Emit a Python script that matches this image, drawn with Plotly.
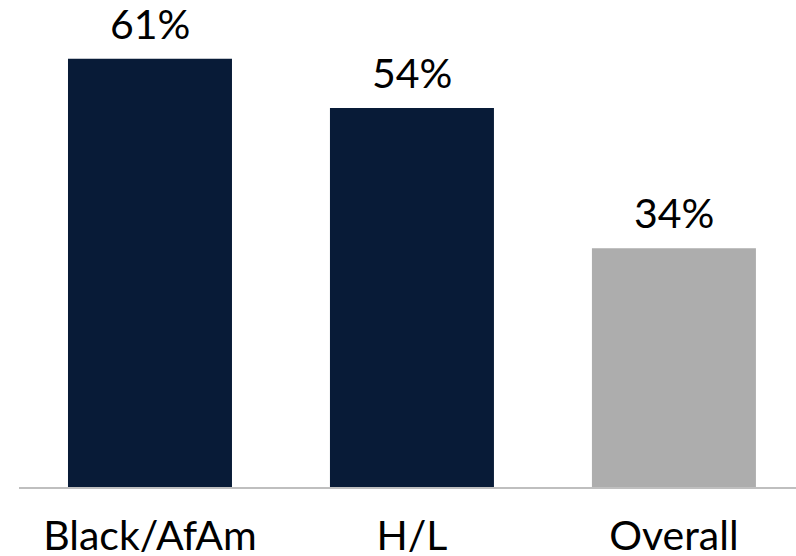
import plotly.graph_objects as go

# Share of respondents by group
categories = ["Black/AfAm", "H/L", "Overall"]
values = [61, 54, 34]
bar_colors = ["#081B37", "#081B37", "#ADADAD"]

FONT = "Lato"
FONT_SIZE = 41

fig = go.Figure(
    go.Bar(
        x=categories,
        y=values,
        marker=dict(color=bar_colors, line=dict(width=0)),
        width=0.626,
        hoverinfo="skip",
    )
)

# Value labels above each bar
for cat, val in zip(categories, values):
    fig.add_annotation(
        x=cat, y=val, text=f"{val}%", showarrow=False,
        yanchor="bottom", yshift=9,
        font=dict(family=FONT, size=FONT_SIZE, color="#000000"),
    )

fig.update_layout(
    width=796, height=556,
    margin=dict(l=19, r=0, t=0, b=69, autoexpand=False),
    paper_bgcolor="white", plot_bgcolor="white",
    showlegend=False,
    xaxis=dict(
        range=[-0.5, 2.466], automargin=False,
        showline=True, linecolor="#BFBFBF", linewidth=2,
        showgrid=False, zeroline=False,
        ticks="outside", ticklen=12, tickcolor="rgba(0,0,0,0)",
        tickfont=dict(family=FONT, size=FONT_SIZE, color="#000000"),
    ),
    yaxis=dict(range=[0, 69.37], visible=False, showgrid=False,
               zeroline=False, automargin=False),
)

fig.write_html("out.html")
